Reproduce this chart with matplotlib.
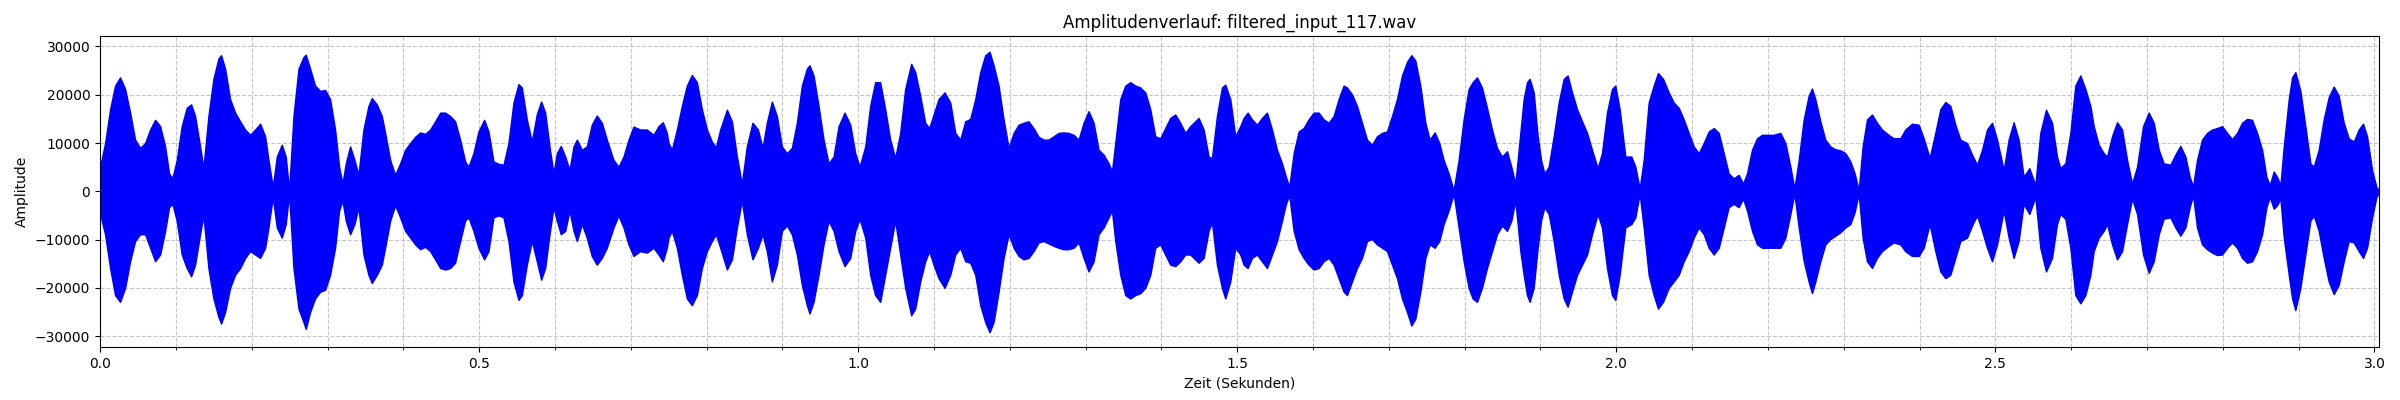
import matplotlib
matplotlib.use("Agg")
import matplotlib.pyplot as plt
from matplotlib.ticker import MultipleLocator

title = "Amplitudenverlauf: filtered_input_117.wav"
x_label = "Zeit (Sekunden)"
y_label = "Amplitude"

# Envelope of the waveform (seconds, upper peak, lower peak)
time_s = [
    0.000, 0.0066, 0.0132, 0.0198, 0.0264, 0.0330, 0.0396, 0.0462, 0.0528, 0.0594,
    0.0660, 0.0726, 0.0792, 0.0858, 0.0910, 0.0954, 0.1011, 0.1077, 0.1143, 0.1201,
    0.1253, 0.1319, 0.1363, 0.1429, 0.1495, 0.1561, 0.1596, 0.1649, 0.1715, 0.1781,
    0.1847, 0.1913, 0.1979, 0.2045, 0.2111, 0.2177, 0.2221, 0.2278, 0.2331, 0.2397,
    0.2449, 0.2493, 0.2551, 0.2617, 0.2683, 0.2713, 0.2770, 0.2836, 0.2902, 0.2968,
    0.3034, 0.3100, 0.3153, 0.3197, 0.3241, 0.3298, 0.3355, 0.3408, 0.3474, 0.3540,
    0.3584, 0.3650, 0.3716,
    0.3760, 0.3826, 0.3892, 0.3958, 0.4024, 0.4090, 0.4156, 0.4222, 0.4288, 0.4354,
    0.4420, 0.4486, 0.4552, 0.4617, 0.4683, 0.4749, 0.4815, 0.4859, 0.4925, 0.4991,
    0.5066, 0.5123, 0.5189, 0.5255, 0.5321, 0.5387, 0.5453, 0.5519, 0.5563, 0.5629,
    0.5695, 0.5761, 0.5818, 0.5871, 0.5928, 0.5981, 0.6025, 0.6077, 0.6135, 0.6192,
    0.6245, 0.6289, 0.6355, 0.6420, 0.6486, 0.6552, 0.6618, 0.6684, 0.6772, 0.6838,
    0.6904, 0.6970, 0.7036, 0.7124, 0.7212, 0.7300, 0.7366, 0.7423, 0.7476,
    0.7498, 0.7542, 0.7608, 0.7674, 0.7740, 0.7806, 0.7872, 0.7938, 0.8004, 0.8070,
    0.8122, 0.8180, 0.8268, 0.8334, 0.8400, 0.8465, 0.8531, 0.8606, 0.8677, 0.8738,
    0.8795, 0.8861, 0.8927, 0.8993, 0.9059, 0.9125, 0.9191, 0.9257, 0.9323, 0.9358,
    0.9411, 0.9477, 0.9543, 0.9609, 0.9675, 0.9741, 0.9820, 0.9895, 0.9961, 1.0018,
    1.0093, 1.0158, 1.0224, 1.0290, 1.0356, 1.0422, 1.0488, 1.0554, 1.0620, 1.0699,
    1.0752, 1.0818, 1.0884, 1.0937, 1.0994, 1.1060, 1.1139, 1.1214,
    1.1280, 1.1346, 1.1412, 1.1478, 1.1544, 1.1610, 1.1676, 1.1733, 1.1786, 1.1852,
    1.1918, 1.1984, 1.2050, 1.2116, 1.2181, 1.2247, 1.2313, 1.2379, 1.2445, 1.2511,
    1.2577, 1.2643, 1.2709, 1.2775, 1.2841, 1.2907, 1.2973, 1.3039, 1.3105, 1.3171,
    1.3237, 1.3303, 1.3347, 1.3391, 1.3457, 1.3523, 1.3589, 1.3655, 1.3721, 1.3787,
    1.3853, 1.3918, 1.3984, 1.4050, 1.4116, 1.4182, 1.4248, 1.4314, 1.4380, 1.4490,
    1.4556, 1.4622, 1.4666, 1.4732, 1.4798, 1.4842, 1.4908, 1.4974,
    1.5040, 1.5084, 1.5137, 1.5194, 1.5260, 1.5326, 1.5392, 1.5458, 1.5524, 1.5590,
    1.5642, 1.5686, 1.5744, 1.5810, 1.5875, 1.5941, 1.6007, 1.6073, 1.6139, 1.6205,
    1.6271, 1.6337, 1.6403, 1.6447, 1.6513, 1.6579, 1.6645, 1.6711, 1.6777, 1.6843,
    1.6909, 1.6975, 1.7041, 1.7107, 1.7173, 1.7239, 1.7296, 1.7349, 1.7415, 1.7481,
    1.7538, 1.7604, 1.7665, 1.7722, 1.7788, 1.7854, 1.7920, 1.7986, 1.8052, 1.8105,
    1.8162, 1.8228, 1.8294, 1.8360, 1.8426, 1.8492, 1.8558, 1.8615, 1.8668, 1.8734,
    1.8778, 1.8822, 1.8857, 1.8910, 1.8963, 1.9007, 1.9051, 1.9108, 1.9174, 1.9240,
    1.9306, 1.9358, 1.9416, 1.9482, 1.9548, 1.9614, 1.9679, 1.9754, 1.9811, 1.9877,
    1.9943, 1.9987, 2.0044, 2.0119, 2.0198, 2.0251, 2.0308, 2.0361, 2.0427, 2.0493,
    2.0550, 2.0616, 2.0691, 2.0757, 2.0823, 2.0889, 2.0955, 2.1021, 2.1087, 2.1153,
    2.1219, 2.1285, 2.1351, 2.1417, 2.1482, 2.1548, 2.1614, 2.1672, 2.1724, 2.1790,
    2.1856, 2.1922, 2.1988, 2.2076, 2.2164, 2.2230, 2.2296, 2.2349, 2.2406, 2.2472,
    2.2537, 2.2581, 2.2625, 2.2691, 2.2757, 2.2823, 2.2889, 2.2955, 2.3021, 2.3087,
    2.3144, 2.3197, 2.3249, 2.3307, 2.3373, 2.3438, 2.3504, 2.3592, 2.3658, 2.3746,
    2.3812, 2.3900, 2.3988, 2.4054, 2.4133, 2.4208, 2.4274, 2.4340, 2.4406, 2.4472,
    2.4538, 2.4626, 2.4692, 2.4758, 2.4824, 2.4890, 2.4956, 2.5022, 2.5110, 2.5175,
    2.5241, 2.5307, 2.5373, 2.5448, 2.5527, 2.5593, 2.5668, 2.5747, 2.5813, 2.5857,
    2.5923, 2.5989, 2.6055, 2.6121, 2.6187, 2.6253,
    2.6297, 2.6363, 2.6429, 2.6473, 2.6539, 2.6605, 2.6671, 2.6737, 2.6803, 2.6869,
    2.6948, 2.7023, 2.7089, 2.7155, 2.7220, 2.7308, 2.7374, 2.7440, 2.7506, 2.7563,
    2.7607, 2.7660, 2.7726, 2.7792, 2.7858, 2.7924, 2.7990, 2.8056, 2.8122, 2.8188,
    2.8254, 2.8320, 2.8386, 2.8452, 2.8518, 2.8575, 2.8619, 2.8672, 2.8716, 2.8760,
    2.8804, 2.8870, 2.8914, 2.8957, 2.9023, 2.9089, 2.9155, 2.9199, 2.9265, 2.9331,
    2.9397, 2.9463, 2.9529, 2.9595, 2.9661, 2.9727, 2.9793, 2.9850, 2.9903, 2.9969,
    3.0026, 3.0062,
]

env_upper = [
    5100, 10000, 17000, 21900, 23600, 21200, 16300, 10700, 9000, 10000,
    12800, 14800, 13500, 9300, 3700, 2700, 6500, 13500, 17300, 18000,
    15600, 9300, 4800, 15600, 23300, 27500, 28200, 25400, 19100, 16300,
    14500, 12800, 11700, 12800, 14000, 11400, 6500, 900, 7200, 9650,
    7200, 200, 15600, 25400, 27800, 28300, 25400, 21900, 20800, 21000,
    19100, 12800, 5100, 1600, 5800, 9300, 6500, 3400, 12800, 17700,
    19300, 18000, 15600,
    12100, 6500, 3400, 5800, 8600, 10000, 11300, 12200, 11900, 12800,
    14500, 16300, 16300, 15600, 14500, 10700, 6200, 5100, 7900, 12400,
    14800, 12400, 6200, 5700, 5500, 10000, 18400, 22200, 21500, 14900,
    10300, 16000, 18600, 16300, 9300, 3700, 7900, 9400, 7200, 4400,
    9300, 10700, 8600, 9300, 13800, 15700, 14200, 10700, 6500, 5100,
    7200, 10700, 13400, 12800, 12800, 11700, 13500, 14300, 12100,
    10000, 8600, 12800, 17700, 21900, 24100, 22600, 17000, 12800, 10300,
    9100, 12800, 16900, 14500, 7200, 1600, 9300, 14200, 12800, 9000,
    14200, 18600, 15600, 9300, 7900, 9000, 14200, 21900, 25400, 26100,
    24000, 17700, 10700, 5800, 7200, 13500, 16300, 13800, 7900, 5100,
    9300, 17700, 22600, 22600, 17000, 10700, 6900, 12100, 21200, 26400,
    24700, 19800, 14200, 13100, 15900, 19100, 20500, 18400,
    12100, 10700, 14500, 15000, 19100, 24700, 28200, 28900, 26100, 21900,
    14900, 9000, 12100, 13800, 14200, 14500, 13100, 11300, 10700, 10700,
    11400, 12100, 12200, 12100, 11700, 10700, 14200, 16600, 14200, 8600,
    7600, 5800, 4100, 10000, 19100, 21900, 22600, 21900, 21500, 20500,
    17000, 11400, 11000, 13100, 15200, 15900, 14200, 12100, 13500, 15200,
    12800, 7200, 6900, 15600, 21500, 22100, 19100, 11400,
    13500, 15200, 16300, 14900, 13800, 15200, 16300, 12800, 8600, 5800,
    3000, 900, 7900, 12400, 13100, 14900, 16300, 16300, 14900, 14200,
    15600, 19100, 21900, 21500, 20100, 17700, 14200, 10700, 9650, 11400,
    12100, 12400, 15600, 19100, 24000, 26800, 28200, 27100, 21900, 14200,
    10700, 12200, 10000, 6500, 3700, 200, 6500, 14900, 21200, 22600,
    23600, 21500, 17300, 12800, 9000, 7200, 8300, 5100, 1600, 12100,
    19100, 22600, 23300, 20500, 11400, 6500, 3700, 5100, 11400, 18400,
    23300, 24000, 20500, 17000, 14500, 12100, 8600, 4800, 7900, 16300,
    21200, 21900, 17000, 7200, 7200, 5100, 600, 6500, 18400, 21900,
    24500, 23300, 20500, 18400, 17300, 14900, 12100, 9300, 7900, 10000,
    12400, 13100, 12100, 7900, 3700, 2700, 3400, 1600, 3700, 8600,
    11000, 11700, 11700, 11700, 12100, 10000, 5100, 600, 6500, 14900,
    19800, 21300, 19100, 14500, 10700, 9300, 8700, 8500, 7900, 6200,
    3700, 200, 9300, 14900, 15900, 14200, 12800, 11700, 11000, 11000,
    12800, 14000, 13800, 11000, 6900, 12100, 17000, 18500, 17700, 13800,
    10700, 10000, 7600, 5500, 8600, 12800, 14200, 10700, 4400, 10700,
    14300, 10700, 3000, 4800, 1300, 12100, 16900, 14200, 7200, 4800,
    5800, 12100, 21900, 24000, 21200, 17700,
    13500, 9650, 7900, 7200, 11400, 14300, 12800, 6500, 1600, 5100,
    13500, 16300, 14200, 8600, 5800, 5500, 7600, 9400, 7200, 3000,
    1000, 6500, 10700, 12100, 12800, 13100, 13500, 12100, 10800, 12100,
    14200, 15000, 14800, 12100, 8600, 3000, 1300, 4100, 3000, 1300,
    9300, 19100, 23600, 24700, 20800, 13500, 5800, 5100, 8600, 14900,
    19500, 21700, 19800, 14200, 11000, 10300, 12800, 14000, 11400, 4400,
    900, 200,
]

env_lower = [
    -4700, -8900, -15900, -21500, -22900, -20000, -14500, -10300, -8900, -8900,
    -11700, -14500, -13100, -8200, -3300, -2600, -6100, -13100, -15900, -17600,
    -15200, -8900, -5000, -15900, -22200, -26000, -27400, -25000, -20000, -17300,
    -15900, -13800, -12400, -13100, -13800, -11700, -7500, -1200, -7500, -9600,
    -6800, -500, -15900, -24300, -27100, -28500, -25000, -22200, -20800, -20400,
    -17300, -11700, -4000, -1900, -6100, -8900, -6800, -3300, -13100, -17300,
    -19000, -17300, -15200,
    -11700, -6100, -2900, -5400, -8200, -9600, -11000, -12000, -11500, -12400,
    -14100, -15900, -16200, -15900, -14800, -10300, -6100, -5400, -8200, -11700,
    -14100, -12400, -5400, -5000, -5400, -10300, -18700, -22500, -21500, -15200,
    -10300, -14500, -18300, -15900, -8900, -3300, -6100, -8900, -8200, -4000,
    -8200, -10300, -6800, -9600, -13400, -15200, -13800, -11700, -7500, -5000,
    -7500, -11000, -13400, -12400, -12700, -11700, -13100, -14500, -11700,
    -9600, -8200, -11700, -17300, -22200, -23600, -21500, -15900, -12400, -10300,
    -8900, -11700, -16200, -14100, -7500, -1900, -8900, -14100, -11700, -8900,
    -12400, -18700, -15200, -8200, -7100, -8900, -13100, -19400, -23600, -25300,
    -22900, -17300, -11000, -6100, -8200, -12400, -15500, -13800, -8200, -5700,
    -9600, -17300, -21500, -22900, -17300, -11700, -6100, -13100, -20000, -25700,
    -24300, -18700, -14500, -12400, -15200, -18000, -20000, -17300,
    -13100, -11700, -14500, -14800, -17300, -23600, -27100, -29200, -27100, -20800,
    -13800, -8900, -11700, -13400, -14100, -13800, -12400, -10600, -10300, -10800,
    -11300, -11700, -12000, -12000, -11700, -10600, -13800, -16600, -14500, -8900,
    -7500, -5400, -4000, -10300, -17300, -21500, -22200, -21500, -21100, -20000,
    -17300, -11700, -11000, -13100, -15200, -15500, -14500, -13100, -13100, -14800,
    -13800, -8200, -6400, -15200, -20000, -22200, -18700, -11700,
    -13100, -15200, -15900, -13800, -13100, -14500, -15900, -13100, -10300, -6100,
    -2600, -800, -8200, -12000, -13800, -15200, -16200, -15900, -14500, -13800,
    -15200, -18000, -20800, -21500, -18700, -15900, -13800, -10300, -9900, -11000,
    -11700, -12400, -15200, -18000, -22200, -25000, -27800, -26400, -20800, -13800,
    -11000, -11700, -10300, -6800, -4000, -500, -7500, -14500, -20000, -22200,
    -22900, -20000, -15900, -12400, -8900, -7100, -8200, -6100, -1900, -12400,
    -17300, -21500, -22900, -20000, -11700, -6100, -3300, -4700, -10300, -17300,
    -22200, -23900, -20800, -17300, -15200, -13100, -8900, -4700, -7500, -15900,
    -21500, -22500, -17300, -7500, -6800, -5400, -500, -7500, -17300, -21500,
    -24300, -22900, -20000, -18700, -17300, -14500, -12400, -9600, -7500, -8900,
    -11700, -13100, -11700, -7500, -3300, -2600, -3300, -1500, -4000, -8200,
    -11000, -11700, -11700, -11700, -11700, -9600, -4700, -500, -7500, -14500,
    -18700, -21100, -18700, -14500, -11000, -9900, -9200, -8500, -7500, -6800,
    -4300, -500, -9600, -14500, -15900, -13800, -12400, -11300, -10600, -11000,
    -12400, -13400, -13400, -11700, -6800, -12400, -16600, -18000, -17300, -13800,
    -10300, -9600, -7100, -5000, -8200, -11700, -14500, -11000, -4000, -9600,
    -13800, -10300, -2600, -4700, -1200, -11700, -16600, -13800, -6800, -4700,
    -5700, -11700, -21500, -23200, -21500, -17300,
    -12400, -9600, -8200, -6800, -11000, -14100, -12400, -6800, -1500, -4700,
    -13100, -16900, -14500, -8900, -5700, -5400, -7500, -9200, -7500, -3300,
    -800, -7500, -11000, -12000, -12700, -13200, -13100, -11700, -10600, -11700,
    -13800, -14800, -14500, -12400, -8900, -3300, -1200, -3600, -2900, -1500,
    -9600, -17300, -22200, -24600, -20000, -13100, -6100, -5000, -8200, -13800,
    -18700, -21300, -19400, -14500, -10300, -10600, -12400, -13800, -11700, -5400,
    -1200, -200,
]

fig, ax = plt.subplots(figsize=(24, 4), dpi=100)
fig.subplots_adjust(left=0.0417, right=0.9913, top=0.911, bottom=0.1325)

ax.fill_between(time_s, env_lower, env_upper, color="blue", linewidth=1.0)

ax.set_xlim(0, time_s[-1])
ax.set_ylim(-32250, 32250)
ax.xaxis.set_major_locator(MultipleLocator(0.5))
ax.xaxis.set_minor_locator(MultipleLocator(0.1))
ax.yaxis.set_major_locator(MultipleLocator(10000))
ax.grid(True, which="both", linestyle="--", alpha=0.7)
ax.set_axisbelow(True)

ax.set_title(title)
ax.set_xlabel(x_label)
ax.set_ylabel(y_label)

fig.savefig("out.png", dpi=100)
